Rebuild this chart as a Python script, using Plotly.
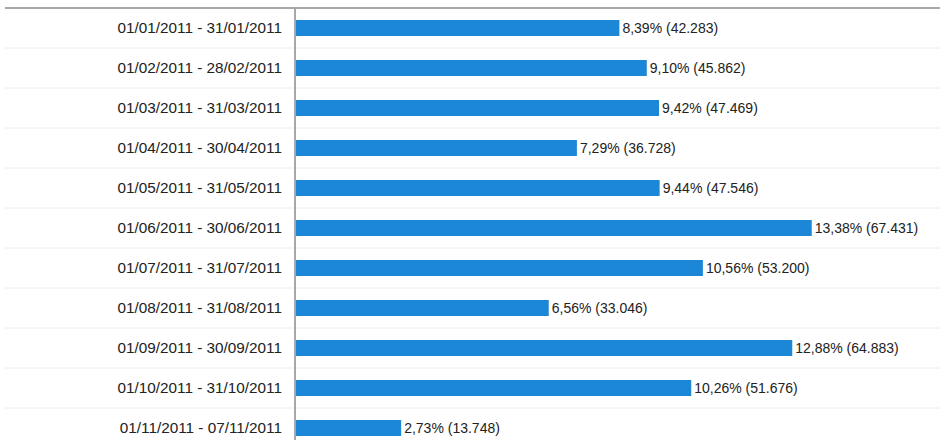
import plotly.graph_objects as go

categories = [
    "01/01/2011 - 31/01/2011",
    "01/02/2011 - 28/02/2011",
    "01/03/2011 - 31/03/2011",
    "01/04/2011 - 30/04/2011",
    "01/05/2011 - 31/05/2011",
    "01/06/2011 - 30/06/2011",
    "01/07/2011 - 31/07/2011",
    "01/08/2011 - 31/08/2011",
    "01/09/2011 - 30/09/2011",
    "01/10/2011 - 31/10/2011",
    "01/11/2011 - 07/11/2011",
]
visits = [42283, 45862, 47469, 36728, 47546, 67431, 53200, 33046, 64883, 51676, 13748]
percents = ["8,39%", "9,10%", "9,42%", "7,29%", "9,44%", "13,38%", "10,56%", "6,56%", "12,88%", "10,26%", "2,73%"]

def fmt_thousands(v):
    return f"{v:,}".replace(",", ".")

labels = [f"{p} ({fmt_thousands(v)})" for p, v in zip(percents, visits)]

W, H = 946, 440
ML, MR, MT, MB = 296, 6, 8, 0
plot_w = W - ML - MR
left_paper = (5 - ML) / plot_w

fig = go.Figure(go.Bar(
    x=visits, y=categories, orientation="h",
    marker=dict(color="#1b87d6", line=dict(width=0)),
    width=0.4,
    text=labels, textposition="outside", cliponaxis=False, constraintext="none",
    textfont=dict(family="Liberation Sans, Arial, sans-serif", size=14, color="#222222"),
    hoverinfo="skip",
))

shapes = []
for i in range(len(categories) - 1):
    shapes.append(dict(type="line", xref="paper", yref="y",
                       x0=left_paper, x1=1, y0=i + 0.5, y1=i + 0.5,
                       line=dict(color="#ececec", width=1), layer="below"))
shapes.append(dict(type="line", xref="paper", yref="paper",
                   x0=left_paper, x1=1, y0=1, y1=1,
                   line=dict(color="#a8a8a8", width=2)))

fig.update_layout(
    width=W, height=H,
    margin=dict(l=ML, r=MR, t=MT, b=MB, pad=0, autoexpand=False),
    paper_bgcolor="white", plot_bgcolor="white",
    showlegend=False,
    shapes=shapes,
    xaxis=dict(range=[0, 84200], visible=False, showgrid=False, zeroline=False,
               fixedrange=True, automargin=False),
    yaxis=dict(
        type="category", range=[10.3, -0.5], showgrid=False, zeroline=False,
        showline=True, linecolor="#a8a8a8", linewidth=2,
        ticks="", ticklabelstandoff=9, automargin=False,
        tickfont=dict(family="Liberation Sans, Arial, sans-serif", size=15.3, color="#222222"),
        fixedrange=True,
    ),
    font=dict(family="Liberation Sans, Arial, sans-serif"),
)

fig.write_html(
    "out.html",
    config={"displayModeBar": False},
    post_script="document.body.style.margin='0';document.body.style.overflow='hidden';",
)
